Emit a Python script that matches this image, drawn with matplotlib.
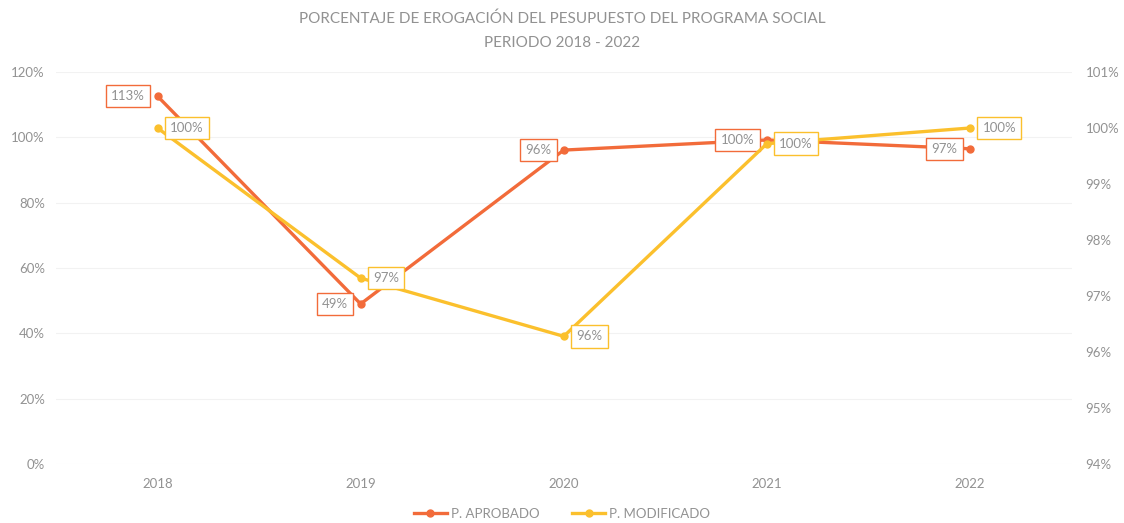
import matplotlib.pyplot as plt

anios = ["2018", "2019", "2020", "2021", "2022"]
aprobado = [112.6, 49.0, 96.1, 99.2, 96.5]          # eje izquierdo (%)
modificado = [100.0, 97.32, 96.28, 99.72, 100.0]    # eje derecho (%)
etiq_aprobado = ["113%", "49%", "96%", "100%", "97%"]
etiq_modificado = ["100%", "97%", "96%", "100%", "100%"]

naranja = "#F26B3A"
amarillo = "#FBC02D"
gris = "#929292"

plt.rcParams['font.family'] = ['Lato', 'DejaVu Sans']

fig = plt.figure(figsize=(11.24, 5.23), dpi=100)
ax = fig.add_axes([0.0498, 0.1128, 0.9035, 0.7495])
ax2 = ax.twinx()

x = list(range(len(anios)))
l1, = ax.plot(x, aprobado, color=naranja, lw=2.4, marker='o', ms=5, label="P. APROBADO", zorder=3)
l2, = ax2.plot(x, modificado, color=amarillo, lw=2.4, marker='o', ms=5, label="P. MODIFICADO", zorder=3)

ax.set_xlim(-0.5, 4.5)
ax.set_ylim(0, 120)
ax2.set_ylim(94, 101)
ax.set_yticks(range(0, 121, 20))
ax.set_yticklabels([f"{v}%" for v in range(0, 121, 20)])
ax2.set_yticks(range(94, 102))
ax2.set_yticklabels([f"{v}%" for v in range(94, 102)])
ax.set_xticks(x)
ax.set_xticklabels(anios)

for a in (ax, ax2):
    for s in a.spines.values():
        s.set_visible(False)
    a.tick_params(length=0, colors=gris, labelsize=9.5)
ax.tick_params(axis='y', pad=8)
ax2.tick_params(axis='y', pad=10)
ax.tick_params(axis='x', pad=10)
ax.grid(axis='y', color="#f2f2f2", lw=0.8)
ax.set_axisbelow(True)
ax2.set_zorder(ax.get_zorder() + 1)
ax2.patch.set_visible(False)

for i in x:
    ax.annotate(etiq_aprobado[i], (i, aprobado[i]), xytext=(-9, 0), textcoords='offset points',
                ha='right', va='center', color=gris, fontsize=9.5, zorder=5,
                bbox=dict(boxstyle='square,pad=0.4', fc='white', ec=naranja, lw=1))
    ax2.annotate(etiq_modificado[i], (i, modificado[i]), xytext=(9, 0), textcoords='offset points',
                 ha='left', va='center', color=gris, fontsize=9.5, zorder=5,
                 bbox=dict(boxstyle='square,pad=0.4', fc='white', ec=amarillo, lw=1))

fig.text(0.5, 0.965, "PORCENTAJE DE EROGACIÓN DEL PESUPUESTO DEL PROGRAMA SOCIAL",
         ha='center', va='center', color=gris, fontsize=11)
fig.text(0.5, 0.918, "PERIODO 2018 - 2022", ha='center', va='center', color=gris, fontsize=11)

fig.legend(handles=[l1, l2], loc='center', bbox_to_anchor=(0.5, 0.018), ncol=2, frameon=False,
           fontsize=9.5, labelcolor=gris, handlelength=2.5, columnspacing=2.5, handletextpad=0.3)

fig.savefig("out.png", dpi=100, facecolor='white')
